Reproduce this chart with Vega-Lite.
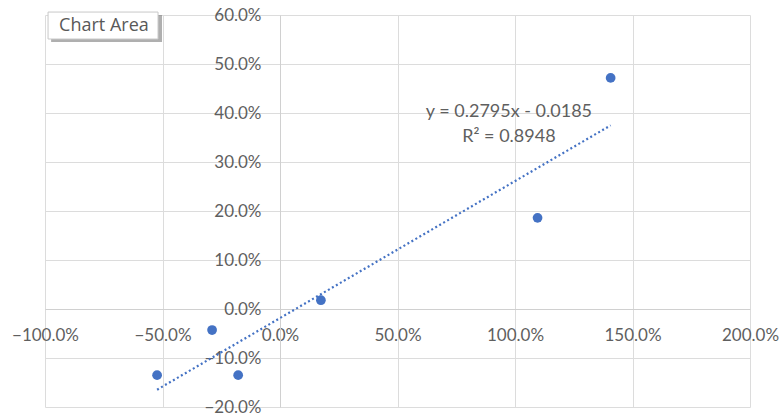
{
  "$schema": "https://vega.github.io/schema/vega-lite/v6.json",
  "width": 705,
  "height": 392,
  "autosize": {"type": "none"},
  "padding": {"left": 45, "top": 15, "right": 29, "bottom": 7},
  "background": "white",
  "config": {"view": {"stroke": null}, "font": "Lato"},
  "datasets": {
    "points": [
      {"x": -0.523, "y": -0.135},
      {"x": -0.289, "y": -0.043},
      {"x": -0.178, "y": -0.135},
      {"x": 0.174, "y": 0.018},
      {"x": 1.096, "y": 0.186},
      {"x": 1.407, "y": 0.4716}
    ],
    "trend": [
      {"x": -0.523, "y": -0.1647},
      {"x": 1.407, "y": 0.3748}
    ],
    "one": [{}]
  },
  "layer": [
    {
      "data": {"name": "points"},
      "mark": {"type": "circle", "size": 95, "opacity": 1, "color": "#4472C4"},
      "encoding": {
        "x": {
          "field": "x",
          "type": "quantitative",
          "scale": {"domain": [-1, 2], "nice": false, "zero": false},
          "axis": {
            "orient": "bottom",
            "offset": -98,
            "values": [-1, -0.5, 0, 0.5, 1, 1.5, 2],
            "format": ".1%",
            "title": null,
            "ticks": false,
            "tickSize": 0,
            "labelPadding": 18,
            "labelFlush": false,
            "labelOverlap": false,
            "labelBound": false,
            "labelFont": "Lato",
            "labelFontSize": 17,
            "labelColor": "#5f5f5f",
            "domainColor": "#d0d0d0",
            "grid": true,
            "gridColor": "#dcdcdc"
          }
        },
        "y": {
          "field": "y",
          "type": "quantitative",
          "scale": {"domain": [-0.2, 0.6], "nice": false, "zero": false},
          "axis": {
            "orient": "left",
            "offset": -235,
            "values": [-0.2, -0.1, 0, 0.1, 0.2, 0.3, 0.4, 0.5, 0.6],
            "format": ".1%",
            "title": null,
            "ticks": false,
            "tickSize": 0,
            "labelPadding": 19,
            "labelOverlap": false,
            "labelBound": false,
            "labelFlush": false,
            "labelFont": "Lato",
            "labelFontSize": 17,
            "labelColor": "#5f5f5f",
            "domainColor": "#d0d0d0",
            "grid": true,
            "gridColor": "#dcdcdc"
          }
        }
      }
    },
    {
      "data": {"name": "trend"},
      "mark": {"type": "line", "color": "#4472C4", "strokeWidth": 2.2, "strokeDash": [2, 2.6]},
      "encoding": {
        "x": {"field": "x", "type": "quantitative"},
        "y": {"field": "y", "type": "quantitative"}
      }
    },
    {
      "data": {"name": "one"},
      "mark": {"type": "text", "align": "center", "baseline": "middle", "font": "Lato", "fontSize": 18, "color": "#5f5f5f", "text": "y = 0.2795x - 0.0185"},
      "encoding": {"x": {"datum": 0.974}, "y": {"datum": 0.402}}
    },
    {
      "data": {"name": "one"},
      "mark": {"type": "text", "align": "center", "baseline": "middle", "font": "Lato", "fontSize": 18, "color": "#5f5f5f", "text": "R² = 0.8948"},
      "encoding": {"x": {"datum": 0.974}, "y": {"datum": 0.351}}
    },
    {
      "data": {"name": "one"},
      "mark": {"type": "rect", "color": "#7a7a7a", "opacity": 0.6},
      "encoding": {
        "x": {"datum": -0.974}, "x2": {"datum": -0.502},
        "y": {"datum": 0.600}, "y2": {"datum": 0.545}
      }
    },
    {
      "data": {"name": "one"},
      "mark": {"type": "rect", "fill": "white", "stroke": "#c8c8c8", "strokeWidth": 1},
      "encoding": {
        "x": {"datum": -0.987}, "x2": {"datum": -0.519},
        "y": {"datum": 0.606}, "y2": {"datum": 0.551}
      }
    },
    {
      "data": {"name": "one"},
      "mark": {"type": "text", "align": "left", "baseline": "middle", "font": "Open Sans", "fontSize": 18, "color": "#595959", "text": "Chart Area"},
      "encoding": {"x": {"datum": -0.940}, "y": {"datum": 0.578}}
    }
  ]
}
